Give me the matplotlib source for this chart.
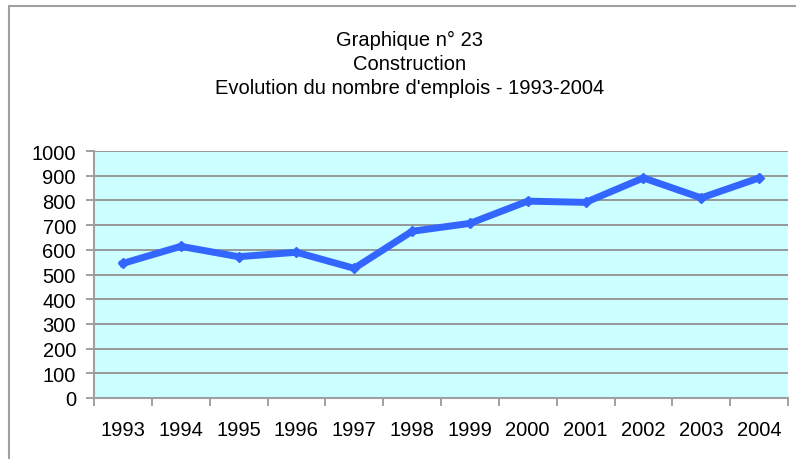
import matplotlib.pyplot as plt
from matplotlib.patches import Rectangle

years = ['1993', '1994', '1995', '1996', '1997', '1998',
         '1999', '2000', '2001', '2002', '2003', '2004']
emplois = [545, 614, 572, 590, 525, 675, 707, 797, 792, 891, 810, 891]
yticks = [0, 100, 200, 300, 400, 500, 600, 700, 800, 900, 1000]
titre = ["Graphique n° 23", "Construction",
         "Evolution du nombre d'emplois - 1993-2004"]

plt.rcParams['font.family'] = ['Liberation Sans', 'DejaVu Sans']

fig = plt.figure(figsize=(7.96, 4.6), dpi=100)
# cadre du graphique
fig.patches.append(Rectangle((9 / 796, -0.1), 1.0, (460 - 7) / 460 + 0.1,
                             transform=fig.transFigure, fill=False,
                             edgecolor='#a0a0a0', linewidth=1.5))

ax = fig.add_axes([94 / 796, 61 / 460, 694 / 796, 247 / 460])
ax.set_facecolor('#ccffff')

x = range(len(years))
ax.plot(x, emplois, color='#3366ff', linewidth=5, marker='D',
        markersize=5.5, solid_joinstyle='miter', zorder=3)

ax.set_xlim(-0.5, len(years) - 0.5)
ax.set_ylim(0, 1000)
ax.set_yticks(yticks)
ax.set_xticks([i - 0.5 for i in range(len(years) + 1)], minor=False)
ax.set_xticklabels([])
ax.set_xticks(list(x), minor=True)
ax.set_xticklabels(years, minor=True)
ax.tick_params(axis='x', which='minor', length=0, pad=16, labelsize=14.5)
ax.tick_params(axis='x', which='major', length=6, width=1.2, color='#909090')
ax.tick_params(axis='y', length=6, width=1.2, color='#909090', labelsize=14.5, pad=7)

ax.yaxis.grid(True, color='#909090', linewidth=1.3)
ax.set_axisbelow(True)
for side in ['top', 'right']:
    ax.spines[side].set_visible(False)
ax.spines['left'].set_color('#a0a0a0')
ax.spines['bottom'].set_color('#a0a0a0')
ax.spines['left'].set_linewidth(1.5)
ax.spines['bottom'].set_linewidth(1.5)

for i, ligne in enumerate(titre):
    fig.text(410 / 796, 1 - (40 + 24 * i) / 460, ligne, ha='center',
             va='center', fontsize=14.5)

fig.savefig('out.png', dpi=100)
